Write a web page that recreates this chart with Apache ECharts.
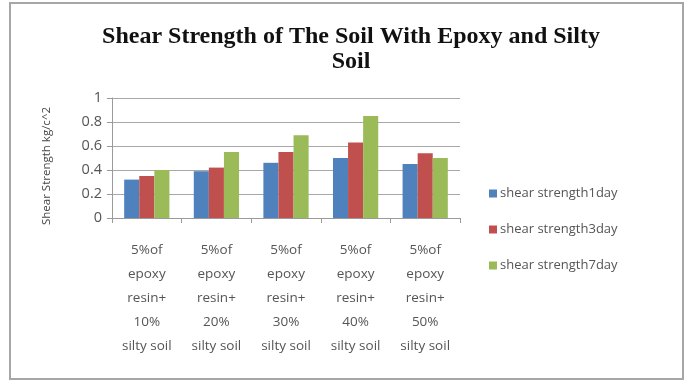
<!DOCTYPE html>
<html>
<head>
<meta charset="utf-8">
<script src="https://cdn.jsdelivr.net/npm/echarts@6/dist/echarts.min.js"></script>
<style>
  html, body { margin: 0; padding: 0; background: #ffffff; }
  #chart { width: 688px; height: 382px; }
</style>
</head>
<body>
<div id="chart"></div>
<script>
// Mix proportions (x categories)
const categories = [
  '5%of\nepoxy\nresin+\n10%\nsilty soil',
  '5%of\nepoxy\nresin+\n20%\nsilty soil',
  '5%of\nepoxy\nresin+\n30%\nsilty soil',
  '5%of\nepoxy\nresin+\n40%\nsilty soil',
  '5%of\nepoxy\nresin+\n50%\nsilty soil'
];
// Shear strength (kg/cm^2) by curing age
const strength1day = [0.32, 0.39, 0.46, 0.50, 0.45];
const strength3day = [0.35, 0.42, 0.55, 0.63, 0.54];
const strength7day = [0.40, 0.55, 0.69, 0.85, 0.50];
const seriesNames = ['shear strength1day', 'shear strength3day', 'shear strength7day'];
const yTicks = { min: 0, max: 1, interval: 0.2 };
const yAxisTitle = 'Shear Strength kg/c^2';

const chart = echarts.init(document.getElementById('chart'), null, { renderer: 'canvas' });
const labelFont = '"Open Sans", "Noto Sans", sans-serif';

chart.setOption({
  backgroundColor: '#ffffff',
  animation: false,
  title: {
    text: 'Shear Strength of The Soil With Epoxy and Silty\nSoil',
    left: 346,
    textAlign: 'center',
    top: 19,
    textStyle: {
      fontFamily: '"Liberation Serif", "DejaVu Serif", serif',
      fontWeight: 'bold',
      fontSize: 24,
      lineHeight: 25,
      color: '#111111'
    }
  },
  graphic: [{
    type: 'rect',
    shape: { x: 10, y: 3, width: 673, height: 376 },
    style: { fill: 'none', stroke: '#a6a6a6', lineWidth: 2 },
    silent: true,
    z: -1
  }, {
    type: 'text',
    x: 47,
    y: 166,
    rotation: Math.PI / 2,
    style: {
      text: yAxisTitle,
      fontFamily: labelFont,
      fontSize: 11.5,
      fill: '#444444',
      align: 'center',
      verticalAlign: 'middle'
    },
    silent: true
  }],
  legend: {
    orient: 'vertical',
    left: 484,
    top: 182,
    itemWidth: 8,
    itemHeight: 8,
    itemGap: 23,
    icon: 'rect',
    textStyle: { fontFamily: labelFont, fontSize: 13, color: '#555555', padding: [0, 0, 0, -2] },
    data: seriesNames
  },
  grid: { left: 112, right: 228, top: 98, bottom: 164, containLabel: false },
  xAxis: {
    type: 'category',
    data: categories,
    axisLine: { lineStyle: { color: '#9a9a9a' } },
    axisTick: { show: true, length: 5, lineStyle: { color: '#9a9a9a' } },
    axisLabel: {
      interval: 0,
      margin: 20,
      fontFamily: labelFont,
      fontSize: 13.5,
      lineHeight: 24,
      color: '#555555'
    }
  },
  yAxis: {
    type: 'value',
    min: yTicks.min,
    max: yTicks.max,
    interval: yTicks.interval,
    axisLine: { show: true, lineStyle: { color: '#9a9a9a' } },
    axisTick: { show: true, length: 5, lineStyle: { color: '#9a9a9a' } },
    splitLine: { lineStyle: { color: '#a8a8a8', width: 1 } },
    axisLabel: {
      margin: 10,
      fontFamily: labelFont,
      fontSize: 14.5,
      color: '#555555',
      formatter: v => String(Math.round(v * 10) / 10)
    }
  },
  series: [
    { name: seriesNames[0], type: 'bar', data: strength1day, itemStyle: { color: '#4f81bd' }, barGap: '0%', barCategoryGap: '35%' },
    { name: seriesNames[1], type: 'bar', data: strength3day, itemStyle: { color: '#c0504d' }, barGap: '0%', barCategoryGap: '35%' },
    { name: seriesNames[2], type: 'bar', data: strength7day, itemStyle: { color: '#9bbb59' }, barGap: '0%', barCategoryGap: '35%' }
  ]
});
</script>
</body>
</html>
